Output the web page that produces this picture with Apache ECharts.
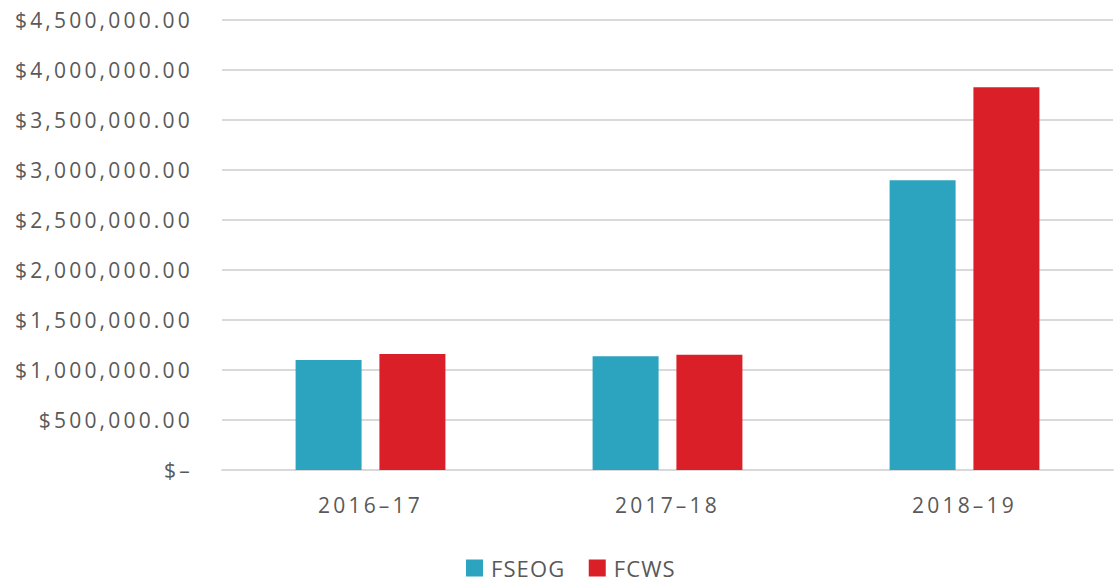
<!DOCTYPE html>
<html>
<head>
<meta charset="utf-8">
<script src="https://cdn.jsdelivr.net/npm/echarts@6/dist/echarts.min.js"></script>
<style>
html,body{margin:0;padding:0;background:#fff;}
#c{width:1115px;height:579px;}
#c text{letter-spacing:3.2px;}
</style>
</head>
<body>
<div id="c"></div>
<script>
const categories = ['2016–17', '2017–18', '2018–19'];
const fseog = [1100000, 1137000, 2897000];
const fcws = [1160000, 1153000, 3827000];
const seriesNames = ['FSEOG', 'FCWS'];

const chart = echarts.init(document.getElementById('c'), null, {renderer: 'svg'});
const font = '"Open Sans", "Noto Sans", sans-serif';
function fmt(v) {
  if (v === 0) return '$–';
  return '$' + v.toLocaleString('en-US', {minimumFractionDigits: 2, maximumFractionDigits: 2});
}
function fixLegend() {
  document.querySelectorAll('#c text').forEach(function (t) {
    if (seriesNames.indexOf(t.textContent.trim()) >= 0) t.style.letterSpacing = '1.1px';
  });
}
chart.on('finished', fixLegend);
chart.setOption({
  animation: false,
  grid: {left: 222, right: 2, top: 20, bottom: 109, containLabel: false},
  legend: {
    top: 557, left: 466, padding: 0, itemWidth: 17, itemHeight: 17, itemGap: 29,
    icon: 'rect',
    textStyle: {fontFamily: font, fontSize: 22, lineHeight: 22, color: '#595959', padding: [0, 0, 0, 3]},
    data: seriesNames
  },
  xAxis: {
    type: 'category', data: categories,
    axisLine: {lineStyle: {color: '#d9d9d9', width: 2}},
    axisTick: {show: false},
    axisLabel: {fontFamily: font, fontSize: 21, color: '#595959', margin: 24}
  },
  yAxis: {
    type: 'value', min: 0, max: 4500000, interval: 500000,
    axisLine: {show: false}, axisTick: {show: false},
    splitLine: {lineStyle: {color: '#d9d9d9', width: 2}},
    axisLabel: {fontFamily: font, fontSize: 21, color: '#595959', margin: 29, formatter: fmt}
  },
  series: [
    {name: seriesNames[0], type: 'bar', data: fseog, barWidth: 66, barGap: '27%',
     itemStyle: {color: '#2ca3bf'}},
    {name: seriesNames[1], type: 'bar', data: fcws, barWidth: 66,
     itemStyle: {color: '#da1f28'}}
  ]
});
fixLegend();
setTimeout(fixLegend, 50);
</script>
</body>
</html>
